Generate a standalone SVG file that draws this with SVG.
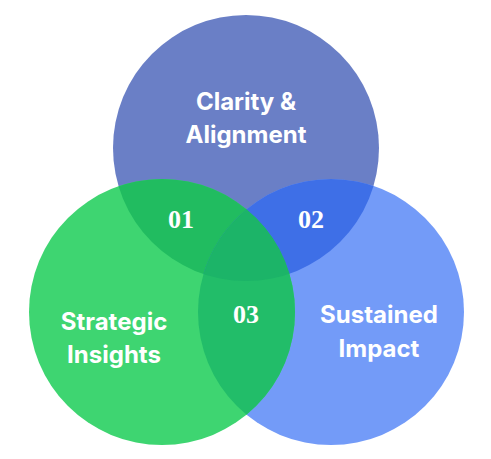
<svg xmlns="http://www.w3.org/2000/svg" width="491" height="459" viewBox="0 0 491 459">
<style>
.lbl{font-family:Inter,"Liberation Sans",sans-serif;font-weight:700;font-size:24px;fill:#fff;text-anchor:middle}
.num{font-family:"Liberation Serif","DejaVu Serif",serif;font-weight:700;font-size:26px;fill:#fff;text-anchor:middle}
</style>
<defs>
<clipPath id="cTop"><circle cx="246" cy="148" r="133"/></clipPath>
<clipPath id="cLeft"><circle cx="162" cy="312" r="133"/></clipPath>
</defs>
<rect width="491" height="459" fill="#fff"/>
<g id="circle-top"><circle cx="246" cy="148" r="133" fill="#6a7fc6"/></g>
<g id="circle-right"><circle cx="331" cy="312" r="133" fill="#739bf8"/></g>
<g id="circle-left"><circle cx="162" cy="312" r="133" fill="#3ed571"/></g>
<g id="overlaps">
<g clip-path="url(#cTop)">
<circle cx="162" cy="312" r="133" fill="#21bc60"/>
<circle cx="331" cy="312" r="133" fill="#3e6fe7"/>
</g>
<g clip-path="url(#cLeft)">
<circle cx="331" cy="312" r="133" fill="#22bd69"/>
<g clip-path="url(#cTop)"><circle cx="331" cy="312" r="133" fill="#1cb468"/></g>
</g>
</g>
<g id="labels">
<text class="lbl" x="246" y="110">Clarity &amp;</text>
<text class="lbl" x="246" y="143">Alignment</text>
<text class="lbl" x="114" y="330">Strategic</text>
<text class="lbl" x="114" y="363">Insights</text>
<text class="lbl" x="379" y="323">Sustained</text>
<text class="lbl" x="379" y="357">Impact</text>
<text class="num" x="181" y="228">01</text>
<text class="num" x="311" y="228">02</text>
<text class="num" x="246" y="323">03</text>
</g>
</svg>
